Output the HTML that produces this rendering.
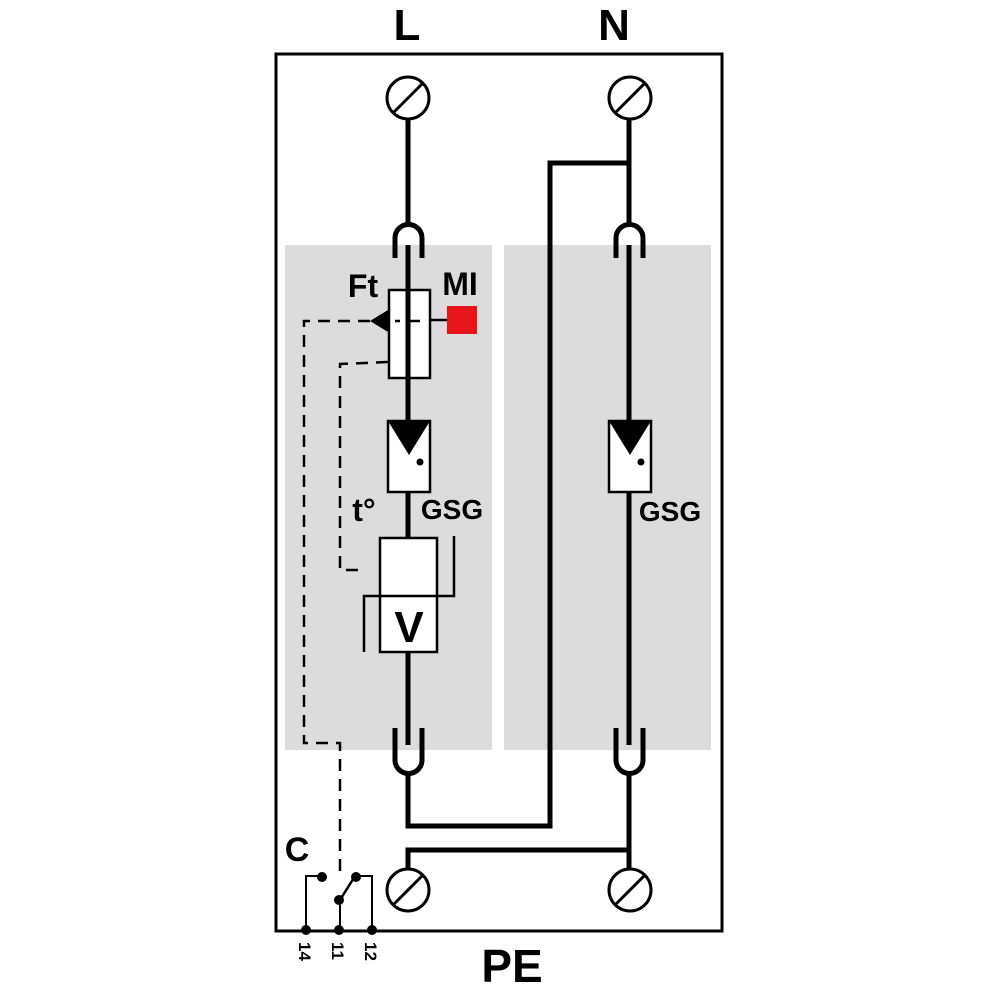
<!DOCTYPE html>
<html><head><style>html,body{margin:0;padding:0;background:#fff}svg{display:block}</style></head>
<body>
<svg width="1000" height="1000" viewBox="0 0 1000 1000" xmlns="http://www.w3.org/2000/svg" font-family="Liberation Sans, sans-serif" font-weight="bold">
<rect x="285" y="245" width="207" height="505" fill="#dcdcdc"/>
<rect x="504" y="245" width="207" height="505" fill="#dcdcdc"/>
<rect x="276" y="54" width="446" height="877" fill="none" stroke="#000" stroke-width="3"/>
<text x="407" y="40" font-size="44" text-anchor="middle">L</text>
<text x="614" y="40" font-size="44" text-anchor="middle">N</text>
<text x="512" y="982" font-size="46" text-anchor="middle">PE</text>
<g fill="none" stroke="#000" stroke-width="3">
<circle cx="408" cy="98" r="21"/><line x1="394" y1="112" x2="422" y2="84"/>
<circle cx="630" cy="98" r="21"/><line x1="616" y1="112" x2="644" y2="84"/>
<circle cx="408" cy="890" r="21"/><line x1="394" y1="904" x2="422" y2="876"/>
<circle cx="630" cy="890" r="21"/><line x1="616" y1="904" x2="644" y2="876"/>
</g>
<g fill="none" stroke="#000" stroke-width="5">
<line x1="408" y1="119" x2="408" y2="224"/>
<path d="M395 258 V238 A13.5 13.5 0 0 1 422 238 V258"/>
<line x1="408" y1="245" x2="408" y2="422"/>
<line x1="408" y1="492" x2="408" y2="538"/>
<line x1="408" y1="652" x2="408" y2="745"/>
<path d="M395 728 V760 A13.5 13.5 0 0 0 422 760 V728"/>
<path d="M408 774 V826 H550 V163 H629"/>
<line x1="629" y1="119" x2="629" y2="224"/>
<path d="M616 258 V238 A13.5 13.5 0 0 1 643 238 V258"/>
<line x1="629" y1="245" x2="629" y2="422"/>
<line x1="629" y1="492" x2="629" y2="745"/>
<path d="M616 728 V760 A13.5 13.5 0 0 0 643 760 V728"/>
<path d="M629 774 V850 H408 V869"/>
<line x1="629" y1="850" x2="629" y2="869"/>
</g>
<rect x="389" y="290" width="41" height="88" fill="#fff" stroke="#000" stroke-width="2.5"/>
<line x1="408" y1="290" x2="408" y2="378" stroke="#000" stroke-width="5"/>
<rect x="447" y="306" width="30" height="28" fill="#e8141b"/>
<line x1="430" y1="320" x2="447" y2="320" stroke="#000" stroke-width="2.5"/>
<polygon points="370,321 388,310 388,332" fill="#000"/>
<g fill="none" stroke="#000" stroke-width="2.5" stroke-dasharray="12,8">
<path d="M420 321 H395"/>
<path d="M370 321 H304 V743 H340 V875"/>
<path d="M388 362 L340 364 V570 H362"/>
</g>
<text x="363" y="297" font-size="32" text-anchor="middle">Ft</text>
<text x="460" y="295" font-size="32" text-anchor="middle">MI</text>
<g>
<rect x="388" y="421" width="42" height="71" fill="#fff" stroke="#000" stroke-width="2.5"/>
<polygon points="388,421 430,421 409,455" fill="#000"/>
<circle cx="420" cy="462" r="3.5" fill="#000"/>
<rect x="609" y="421" width="42" height="71" fill="#fff" stroke="#000" stroke-width="2.5"/>
<polygon points="609,421 651,421 630,455" fill="#000"/>
<circle cx="641" cy="462" r="3.5" fill="#000"/>
</g>
<text x="452" y="519" font-size="28" text-anchor="middle">GSG</text>
<text x="670" y="521" font-size="28" text-anchor="middle">GSG</text>
<text x="364" y="521" font-size="32" text-anchor="middle">t°</text>
<rect x="380" y="538" width="57" height="114" fill="#fff" stroke="#000" stroke-width="2.5"/>
<path d="M364 652 V596 H454 V536" fill="none" stroke="#000" stroke-width="2.5"/>
<text x="409" y="642" font-size="44" text-anchor="middle" font-weight="bold">V</text>
<text x="297" y="861" font-size="34" text-anchor="middle">C</text>
<g stroke="#000" stroke-width="2" fill="none">
<path d="M306 929 V876 H322"/>
<path d="M372 929 V876 H357"/>
<line x1="340" y1="929" x2="340" y2="900"/>
<line x1="340" y1="900" x2="355" y2="876" stroke-width="2.5"/>
</g>
<g fill="#000">
<circle cx="322" cy="877" r="5"/><circle cx="356" cy="877" r="5"/><circle cx="339" cy="900" r="5"/>
<circle cx="306" cy="930" r="5"/><circle cx="339" cy="930" r="5"/><circle cx="372" cy="930" r="5"/>
</g>
<g font-size="17" font-weight="bold">
<text transform="translate(299,942) rotate(90)">14</text>
<text transform="translate(332,942) rotate(90)">11</text>
<text transform="translate(365,942) rotate(90)">12</text>
</g>
</svg>
</body></html>
